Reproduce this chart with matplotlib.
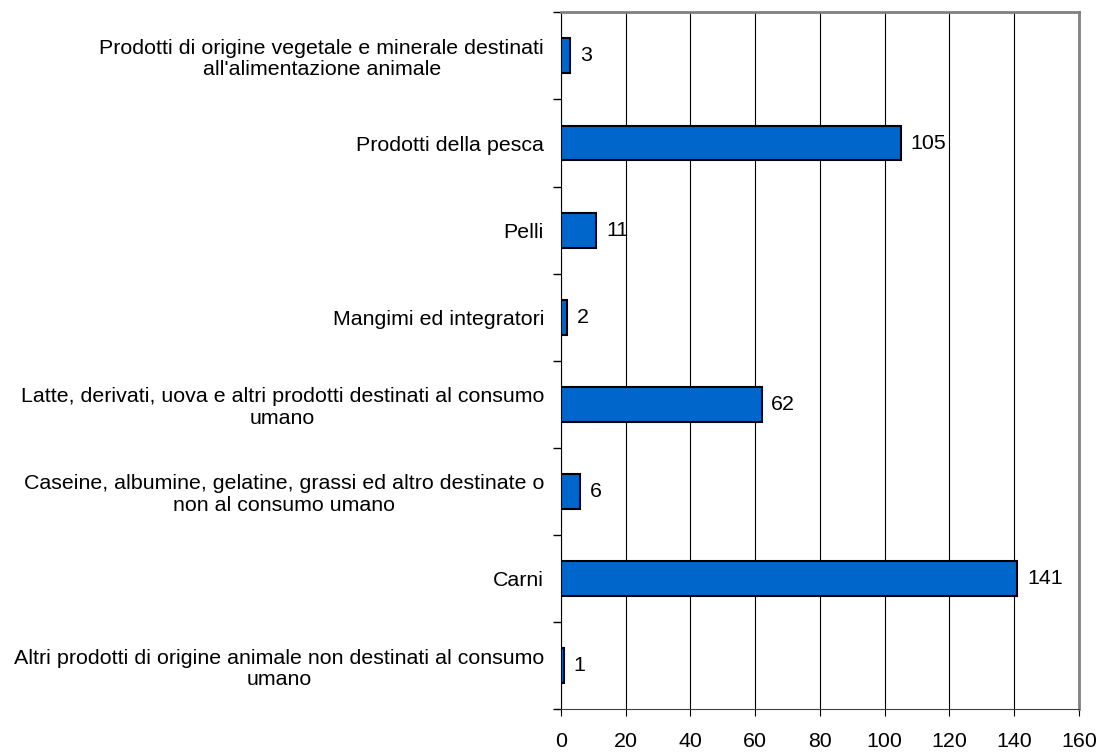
import matplotlib
matplotlib.use('Agg')
import matplotlib.pyplot as plt
import numpy as np

# Dati (dal basso verso l'alto)
categorie = [
    "Altri prodotti di origine animale non destinati al consumo\numano",
    "Carni",
    "Caseine, albumine, gelatine, grassi ed altro destinate o\nnon al consumo umano",
    "Latte, derivati, uova e altri prodotti destinati al consumo\numano",
    "Mangimi ed integratori",
    "Pelli",
    "Prodotti della pesca",
    "Prodotti di origine vegetale e minerale destinati\nall'alimentazione animale",
]
valori = [1, 141, 6, 62, 2, 11, 105, 3]
x_ticks = [0, 20, 40, 60, 80, 100, 120, 140, 160]

plt.rcParams['font.family'] = ['Liberation Sans', 'DejaVu Sans']
plt.rcParams['font.size'] = 15.4

fig = plt.figure(figsize=(10.98, 7.52), dpi=100)
ax = fig.add_axes([0.5107, 0.0568, 0.9827 - 0.5107, 0.9836 - 0.0568])

y = np.arange(len(categorie))
bars = ax.barh(y, valori, height=0.4, color='#0066CC', edgecolor='black',
               linewidth=1.5, zorder=3)

for bar, v in zip(bars, valori):
    ax.annotate(str(v), (bar.get_width(), bar.get_y() + bar.get_height() / 2),
                xytext=(7, 0), textcoords='offset points',
                ha='left', va='center', fontsize=15.4)

ax.set_xlim(0, 160)
ax.set_ylim(-0.5, len(categorie) - 0.5)
ax.set_xticks(x_ticks)
ax.set_yticks(y)
ax.set_yticklabels(categorie, multialignment='center', linespacing=1.15)
ax.set_yticks(np.arange(-0.5, len(categorie)), minor=True)
ax.tick_params(axis='y', which='major', length=0, pad=12)
ax.tick_params(axis='y', which='minor', length=6, direction='out', width=1)
ax.tick_params(axis='x', length=5, direction='out', pad=11)

ax.grid(axis='x', color='black', linewidth=0.8, zorder=0)

ax.spines['left'].set_color('black')
ax.spines['bottom'].set_color('#404040')
for s in ['top', 'right']:
    ax.spines[s].set_color('#808080')
    ax.spines[s].set_linewidth(2)

fig.savefig('out.png', dpi=100)
